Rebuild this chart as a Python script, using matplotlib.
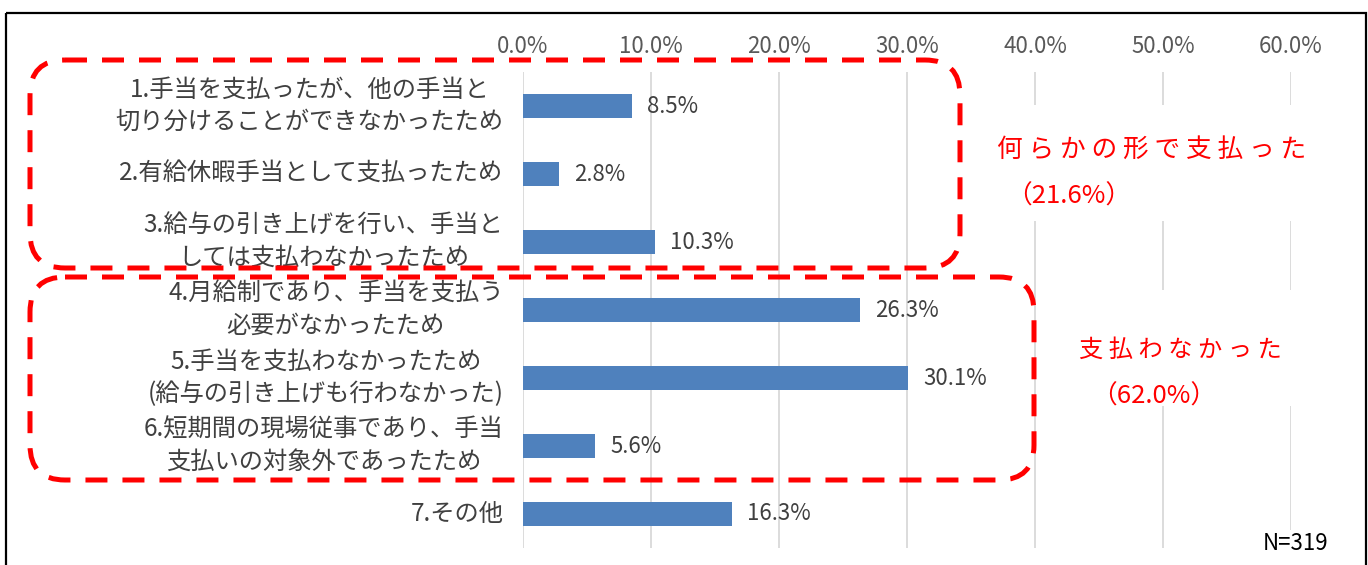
import matplotlib
matplotlib.use("Agg")
import matplotlib.pyplot as plt
from matplotlib.patches import FancyBboxPatch, Rectangle

plt.rcParams['font.family'] = ['Noto Sans CJK JP', 'DejaVu Sans']

# data
labels = [
    "1.手当を支払ったが、他の手当と\n切り分けることができなかったため",
    "2.有給休暇手当として支払ったため",
    "3.給与の引き上げを行い、手当と\nしては支払わなかったため",
    "4.月給制であり、手当を支払う\n必要がなかったため",
    "5.手当を支払わなかったため\n(給与の引き上げも行わなかった)",
    "6.短期間の現場従事であり、手当\n支払いの対象外であったため",
    "7.その他",
]
values = [8.5, 2.8, 10.3, 26.3, 30.1, 5.6, 16.3]
xticks = [0, 10, 20, 30, 40, 50, 60]
group_titles = ["何 ら か の 形 で 支 払 っ た", "支 払 わ な か っ た"]
group_shares = ["（21.6%）", "（62.0%）"]
n_text = "N=319"

W, H = 1368, 565
fig = plt.figure(figsize=(W / 100, H / 100), dpi=100)
ax = fig.add_axes([523 / W, 1 - 548 / H, (1291 - 523) / W, 476 / H])

bars = ax.barh(range(len(values)), values, height=0.35, color='#4F81BD', zorder=2)
ax.bar_label(bars, labels=[f"{v:.1f}%" for v in values], padding=11,
             fontsize=16, color='#404040')

ax.set_xlim(0, 60)
ax.set_ylim(len(values) - 0.5, -0.5)
ax.set_xticks(xticks)
ax.set_xticklabels([f"{t:.1f}%" for t in xticks], color='#595959', fontsize=16)
ax.xaxis.tick_top()
ax.tick_params(axis='x', length=0, pad=10)
ax.set_yticks(range(len(labels)))
ax.set_yticklabels(labels, fontsize=17.5, color='#404040', multialignment='center',
                   linespacing=1.3)
for t in ax.get_yticklabels():
    t.set_va('center')
ax.tick_params(axis='y', length=0, pad=14)
ax.grid(axis='x', color='#D9D9D9', linewidth=1.3, zorder=0)
ax.set_axisbelow(True)
for s in ax.spines.values():
    s.set_visible(False)

# overlay in pixel coords for the frame, dashed groups and notes
ov = fig.add_axes([0, 0, 1, 1], zorder=5)
ov.set_xlim(0, W)
ov.set_ylim(H, 0)
ov.axis('off')
ov.patch.set_alpha(0)

ov.add_patch(Rectangle((6, 13), 1360, 700, fill=False, edgecolor='black', linewidth=1.6))

# white patches where the notes hide the gridlines
ov.add_patch(Rectangle((985, 105), 340, 116, facecolor='white', edgecolor='none'))
ov.add_patch(Rectangle((1040, 290), 285, 116, facecolor='white', edgecolor='none'))
ov.add_patch(Rectangle((1258, 530), 75, 25, facecolor='white', edgecolor='none'))

dash = (0, (4.4, 3))
ov.add_patch(FancyBboxPatch((30, 60), 930, 208, boxstyle="round,pad=0,rounding_size=35",
                            fill=False, edgecolor='#FF0000', linewidth=3.6, linestyle=dash))
ov.add_patch(FancyBboxPatch((30, 277), 1004, 203, boxstyle="round,pad=0,rounding_size=35",
                            fill=False, edgecolor='#FF0000', linewidth=3.6, linestyle=dash))

ov.text(997, 150, group_titles[0], color='#FF0000', fontsize=18.5, ha='left', va='center')
ov.text(1006, 197, group_shares[0], color='#FF0000', fontsize=18.5, ha='left', va='center')
ov.text(1079, 350, group_titles[1], color='#FF0000', fontsize=17.5, ha='left', va='center')
ov.text(1091, 397, group_shares[1], color='#FF0000', fontsize=18.5, ha='left', va='center')
ov.text(1328, 543, n_text, color='black', fontsize=16, ha='right', va='center')

fig.savefig("out.png", dpi=100)
